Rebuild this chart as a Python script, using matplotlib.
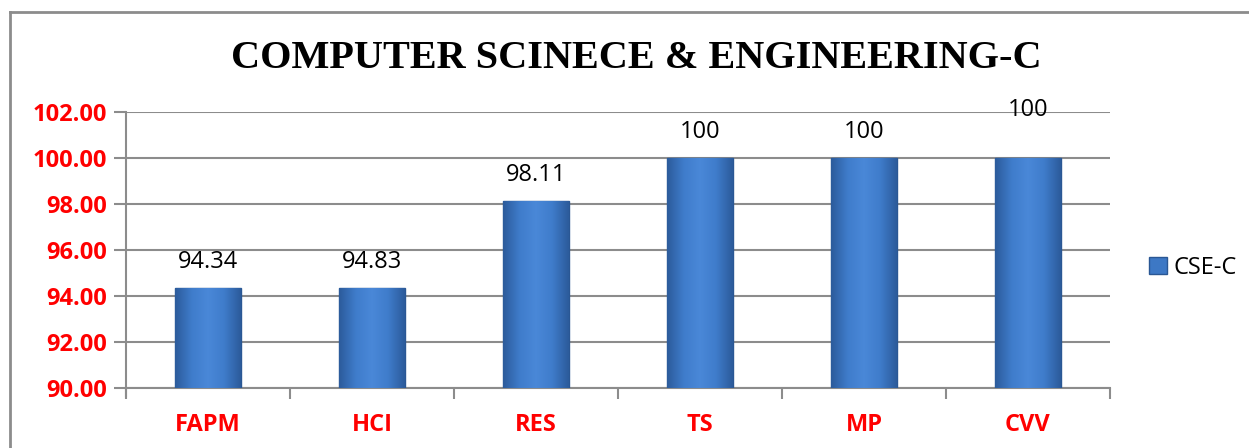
import numpy as np
import matplotlib.pyplot as plt
from matplotlib.lines import Line2D
from matplotlib.colors import LinearSegmentedColormap

subjects = ['FAPM', 'HCI', 'RES', 'TS', 'MP', 'CVV']
heights = [94.34, 94.34, 98.11, 100, 100, 100]
labels = ['94.34', '94.83', '98.11', '100', '100', '100']
yticks = [90, 92, 94, 96, 98, 100, 102]

fig = plt.figure(figsize=(12.49, 4.48), dpi=100)
ax = fig.add_axes([126/1249, 60/448, 984/1249, 276/448])

x = np.arange(len(subjects))
bars = ax.bar(x, np.array(heights) - 90, bottom=90, width=0.40, color='#3D78C5',
              edgecolor='#2A5794', linewidth=1.0, label='CSE-C', zorder=3)

# shaded fill so the bars look bevelled like the original
cmap = LinearSegmentedColormap.from_list('bev', ['#2C5C9C', '#3F7CCB', '#4A88D8', '#3F7CCB', '#2C5C9C'])
grad = np.linspace(0, 1, 64).reshape(1, -1)
for b in bars:
    bx, by = b.get_x(), b.get_y()
    im = ax.imshow(grad, cmap=cmap, aspect='auto', zorder=3.5,
                   extent=[bx, bx + b.get_width(), by, by + b.get_height()])
    im.set_clip_path(b)

# data labels (the last one sits higher in the original)
for i, (h, t) in enumerate(zip(heights, labels)):
    off = 48 if i == len(subjects) - 1 else 26
    ax.annotate(t, (i, h), xytext=(0, off), textcoords='offset pixels',
                ha='center', va='center', fontsize=17, family='Open Sans',
                color='black', zorder=4)

ax.set_ylim(90, 102)
ax.set_xlim(-0.5, len(subjects) - 0.5)
ax.set_yticks(yticks)
ax.set_yticklabels([f'{v:.2f}' for v in yticks], color='red', fontsize=17,
                   fontweight='bold', family='Open Sans')
ax.yaxis.grid(True, color='#8c8c8c', linewidth=1.5, zorder=0)
ax.set_axisbelow(True)

ax.set_xticks(x)
ax.set_xticklabels(subjects, color='red', fontsize=17, fontweight='bold',
                   family='Open Sans')
ax.set_xticks(np.arange(-0.5, len(subjects)), minor=True)
ax.tick_params(axis='x', which='major', length=0, pad=18)
ax.tick_params(axis='x', which='minor', length=8, width=1.5, color='#8c8c8c')
ax.tick_params(axis='y', length=9, width=1.5, color='#8c8c8c', pad=5)

for s in ['top', 'right']:
    ax.spines[s].set_visible(False)
for s in ['left', 'bottom']:
    ax.spines[s].set_color('#8c8c8c')
    ax.spines[s].set_linewidth(1.5)
ax.spines['left'].set_bounds(89.65, 102)

fig.text(636/1249, 1 - 58/448, 'COMPUTER SCINECE & ENGINEERING-C',
         ha='center', va='center', fontsize=29, fontweight='bold',
         family='Liberation Serif')

leg = ax.legend(loc='center left', bbox_to_anchor=(1.018, 0.435), frameon=False,
                prop={'family': 'Open Sans', 'size': 17},
                handlelength=0.75, handleheight=0.75, handletextpad=0.3)

# outer chart border (top and left edges visible)
fig.add_artist(Line2D([10/1249, 1], [1 - 12.5/448] * 2, color='#8c8c8c', lw=2))
fig.add_artist(Line2D([10/1249] * 2, [0, 1 - 12.5/448], color='#8c8c8c', lw=2))

fig.savefig('out.png', dpi=100)
